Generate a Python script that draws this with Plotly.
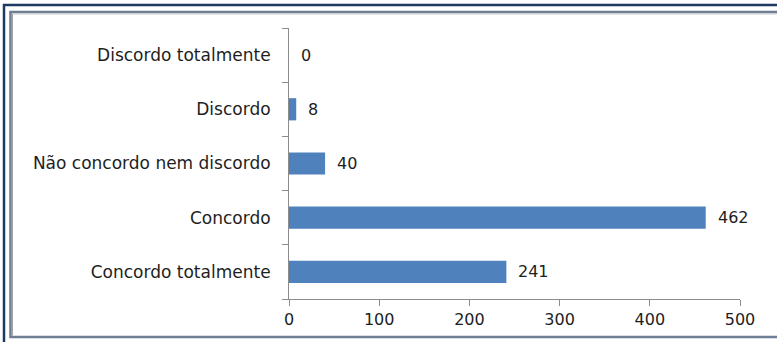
import plotly.graph_objects as go

# Survey answers, listed top to bottom as displayed
categories = [
    "Discordo totalmente",
    "Discordo",
    "Não concordo nem discordo",
    "Concordo",
    "Concordo totalmente",
]
counts = [0, 8, 40, 462, 241]
x_ticks = [0, 100, 200, 300, 400, 500]

BAR_COLOR = "#4F81BD"
TEXT_COLOR = "#1E1E1E"
AXIS_COLOR = "#8C8C8C"
FONT = "DejaVu Sans"
NUM_SIZE = 16
CAT_SIZE = 17

W, H = 777, 342
L, R, T, B = 289, 37, 28, 43
plot_w = W - L - R
plot_h = H - T - B


def px_x(px):
    return (px - L) / plot_w


def px_y(py):
    return (H - B - py) / plot_h


fig = go.Figure()
fig.add_trace(
    go.Bar(
        x=counts,
        y=categories,
        orientation="h",
        marker=dict(color=BAR_COLOR, line=dict(width=0)),
        width=0.41,
        hoverinfo="x+y",
    )
)

# value labels to the right of each bar
for cat, val in zip(categories, counts):
    fig.add_annotation(
        x=val, y=cat, xref="x", yref="y",
        text=str(val), showarrow=False,
        xanchor="left", yanchor="middle", xshift=10,
        font=dict(family=FONT, size=NUM_SIZE, color=TEXT_COLOR),
    )

# outer navy border (top and left) and the inner frame
shapes = [
    dict(type="line", xref="paper", yref="paper",
         x0=px_x(3), x1=px_x(800), y0=px_y(5), y1=px_y(5),
         line=dict(color="#1F3A60", width=2.5)),
    dict(type="line", xref="paper", yref="paper",
         x0=px_x(4), x1=px_x(4), y0=px_y(4), y1=px_y(360),
         line=dict(color="#1F3A60", width=2.5)),
    dict(type="rect", xref="paper", yref="paper",
         x0=px_x(10.5), x1=px_x(800), y0=px_y(12), y1=px_y(337),
         line=dict(color="#6F7E94", width=2.5)),
    dict(type="line", xref="paper", yref="paper",
         x0=px_x(12.5), x1=px_x(800), y0=px_y(14), y1=px_y(14),
         line=dict(color="#C8C8C8", width=1)),
    dict(type="line", xref="paper", yref="paper",
         x0=px_x(12.5), x1=px_x(12.5), y0=px_y(14), y1=px_y(335.5),
         line=dict(color="#A0A0A0", width=1)),
]

fig.update_layout(
    width=W, height=H,
    margin=dict(l=L, r=R, t=T, b=B, pad=0),
    paper_bgcolor="white",
    plot_bgcolor="white",
    showlegend=False,
    bargap=0.59,
    shapes=shapes,
    font=dict(family=FONT, size=NUM_SIZE, color=TEXT_COLOR),
    xaxis=dict(
        range=[0, 500],
        tickvals=x_ticks,
        ticktext=[str(v) for v in x_ticks],
        showgrid=False,
        zeroline=False,
        showline=True,
        linecolor=AXIS_COLOR,
        linewidth=1,
        ticks="outside",
        ticklen=6,
        tickcolor=AXIS_COLOR,
        tickfont=dict(family=FONT, size=NUM_SIZE, color=TEXT_COLOR),
        fixedrange=True,
    ),
    yaxis=dict(
        categoryorder="array",
        categoryarray=categories[::-1],
        showgrid=False,
        zeroline=False,
        showline=True,
        linecolor=AXIS_COLOR,
        linewidth=1,
        ticks="outside",
        tickson="boundaries",
        ticklen=6,
        tickcolor=AXIS_COLOR,
        ticklabelstandoff=14,
        tickfont=dict(family=FONT, size=CAT_SIZE, color=TEXT_COLOR),
        fixedrange=True,
    ),
)

fig.write_html("out.html")
